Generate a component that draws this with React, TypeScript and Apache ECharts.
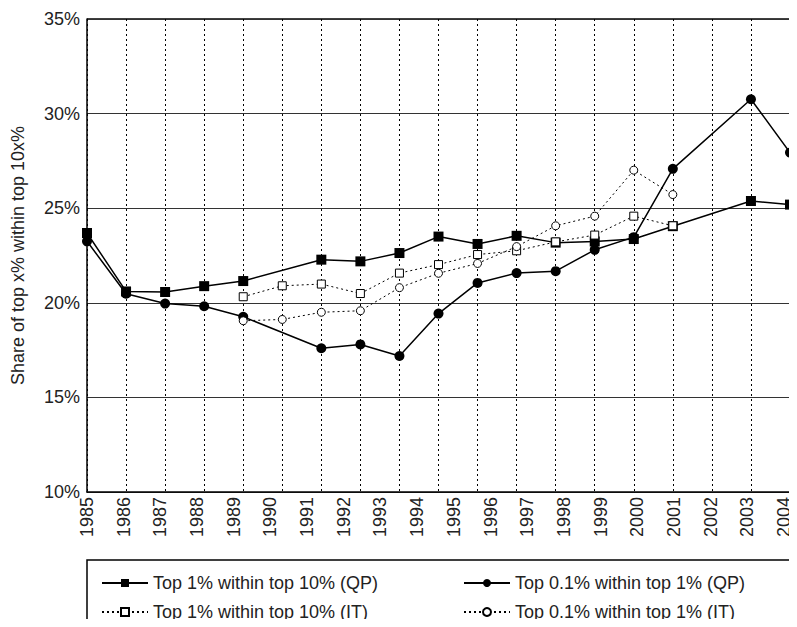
import React, { useEffect, useRef } from "react";
import * as echarts from "echarts";

// the source plot has 19 data positions but 20 evenly spaced year labels
const positions = Array.from({ length: 19 }, (_, i) => String(i));
const yearLabels = [
  "1985", "1986", "1987", "1988", "1989", "1990", "1991", "1992", "1993", "1994",
  "1995", "1996", "1997", "1998", "1999", "2000", "2001", "2002", "2003", "2004",
];

const top1QP = [23.69, 20.6, 20.57, 20.88, 21.15, null, 22.28, 22.19, 22.63, 23.5, 23.11, 23.54, 23.18, 23.24, 23.37, 24.05, null, 25.38, 25.19];
const top01QP = [23.25, 20.48, 19.96, 19.82, 19.26, null, 17.6, 17.8, 17.19, 19.43, 21.05, 21.57, 21.67, 22.8, 23.47, 27.08, null, 30.76, 27.94];
const top1IT = [null, null, null, null, 20.32, 20.9, 20.99, 20.49, 21.57, 22.02, 22.55, 22.75, 23.22, 23.58, 24.58, 24.07, null, null, null];
const top01IT = [null, null, null, null, 19.05, 19.12, 19.5, 19.58, 20.8, 21.56, 22.08, 22.97, 24.07, 24.58, 27.01, 25.72, null, null, null];

const FONT = "Liberation Sans";
const FS = 18;

const App: React.FC = () => {
  const chartRef = useRef<HTMLDivElement | null>(null);

  useEffect(() => {
    if (!chartRef.current) return;
    const chart = echarts.init(chartRef.current, undefined, { renderer: "svg" });

    const solid = { color: "#000", width: 1.5, type: "solid" as const };
    const dotted = { color: "#000", width: 1, type: [2, 3] as any };

    const options: echarts.EChartsOption = {
      animation: false,
      textStyle: { fontFamily: FONT, color: "#222" },
      grid: [
        { left: 87, right: 7, top: 19, bottom: 135 },
        { left: 87, right: 13, top: 19, bottom: 135 },
      ],
      xAxis: [
        {
          type: "category",
          gridIndex: 0,
          data: positions,
          boundaryGap: false,
          axisLine: { show: true, lineStyle: { color: "#000", width: 1.5 } },
          axisTick: { show: false },
          axisLabel: { show: false },
          splitLine: { show: true, lineStyle: { color: "#000", type: [2, 3], width: 1 } },
        },
        {
          type: "category",
          gridIndex: 1,
          data: yearLabels,
          boundaryGap: false,
          position: "bottom",
          axisLine: { show: false },
          axisTick: { show: false },
          axisLabel: { rotate: 90, fontSize: FS, color: "#222", margin: 5, interval: 0 },
          splitLine: { show: false },
        },
      ],
      yAxis: [
        {
          type: "value",
          gridIndex: 0,
          min: 10,
          max: 35,
          interval: 5,
          name: "Share of top x% within top 10x%",
          nameLocation: "middle",
          nameGap: 60,
          nameTextStyle: { fontSize: FS, color: "#222" },
          axisLine: { show: true, lineStyle: { color: "#000", width: 1.5 } },
          axisTick: { show: false },
          axisLabel: { formatter: "{value}%", fontSize: FS, color: "#222", margin: 7 },
          splitLine: { lineStyle: { color: "#333", width: 1 } },
        },
        {
          type: "value",
          gridIndex: 1,
          min: 10,
          max: 35,
          show: false,
        },
      ],
      legend: [
        {
          orient: "vertical",
          left: 96,
          top: 569,
          itemWidth: 46,
          itemHeight: 10,
          itemGap: 11,
          textStyle: { fontSize: FS, color: "#222", fontFamily: FONT },
          data: ["Top 1% within top 10% (QP)", "Top 1% within top 10% (IT)"],
        },
        {
          orient: "vertical",
          left: 458,
          top: 569,
          itemWidth: 46,
          itemHeight: 10,
          itemGap: 11,
          textStyle: { fontSize: FS, color: "#222", fontFamily: FONT },
          data: ["Top 0.1% within top 1% (QP)", "Top 0.1% within top 1% (IT)"],
        },
      ],
      graphic: [
        {
          type: "rect",
          shape: { x: 87, y: 560, width: 703, height: 66 },
          style: { fill: "none", stroke: "#000", lineWidth: 1.5 },
        },
        {
          type: "line",
          shape: { x1: 790, y1: 19, x2: 790, y2: 492 },
          style: { stroke: "#000", lineWidth: 1.5 },
        },
        {
          type: "line",
          shape: { x1: 87, y1: 19, x2: 790, y2: 19 },
          style: { stroke: "#000", lineWidth: 1.5 },
        },
      ],
      series: [
        {
          name: "Top 1% within top 10% (QP)",
          type: "line",
          data: top1QP,
          connectNulls: true,
          symbol: "rect",
          symbolSize: 10,
          lineStyle: solid,
          itemStyle: { color: "#000" },
        },
        {
          name: "Top 0.1% within top 1% (QP)",
          type: "line",
          data: top01QP,
          connectNulls: true,
          symbol: "circle",
          symbolSize: 10,
          lineStyle: solid,
          itemStyle: { color: "#000" },
        },
        {
          name: "Top 1% within top 10% (IT)",
          type: "line",
          data: top1IT,
          symbol: "rect",
          symbolSize: 8,
          lineStyle: dotted,
          itemStyle: { color: "#fff", borderColor: "#000", borderWidth: 1 },
        },
        {
          name: "Top 0.1% within top 1% (IT)",
          type: "line",
          data: top01IT,
          symbol: "circle",
          symbolSize: 8,
          lineStyle: dotted,
          itemStyle: { color: "#fff", borderColor: "#000", borderWidth: 1 },
        },
      ],
    };

    chart.setOption(options);
    return () => chart.dispose();
  }, []);

  return <div ref={chartRef} style={{ width: 797, height: 627, margin: -8, background: "#fff" }} />;
};

export default App;
